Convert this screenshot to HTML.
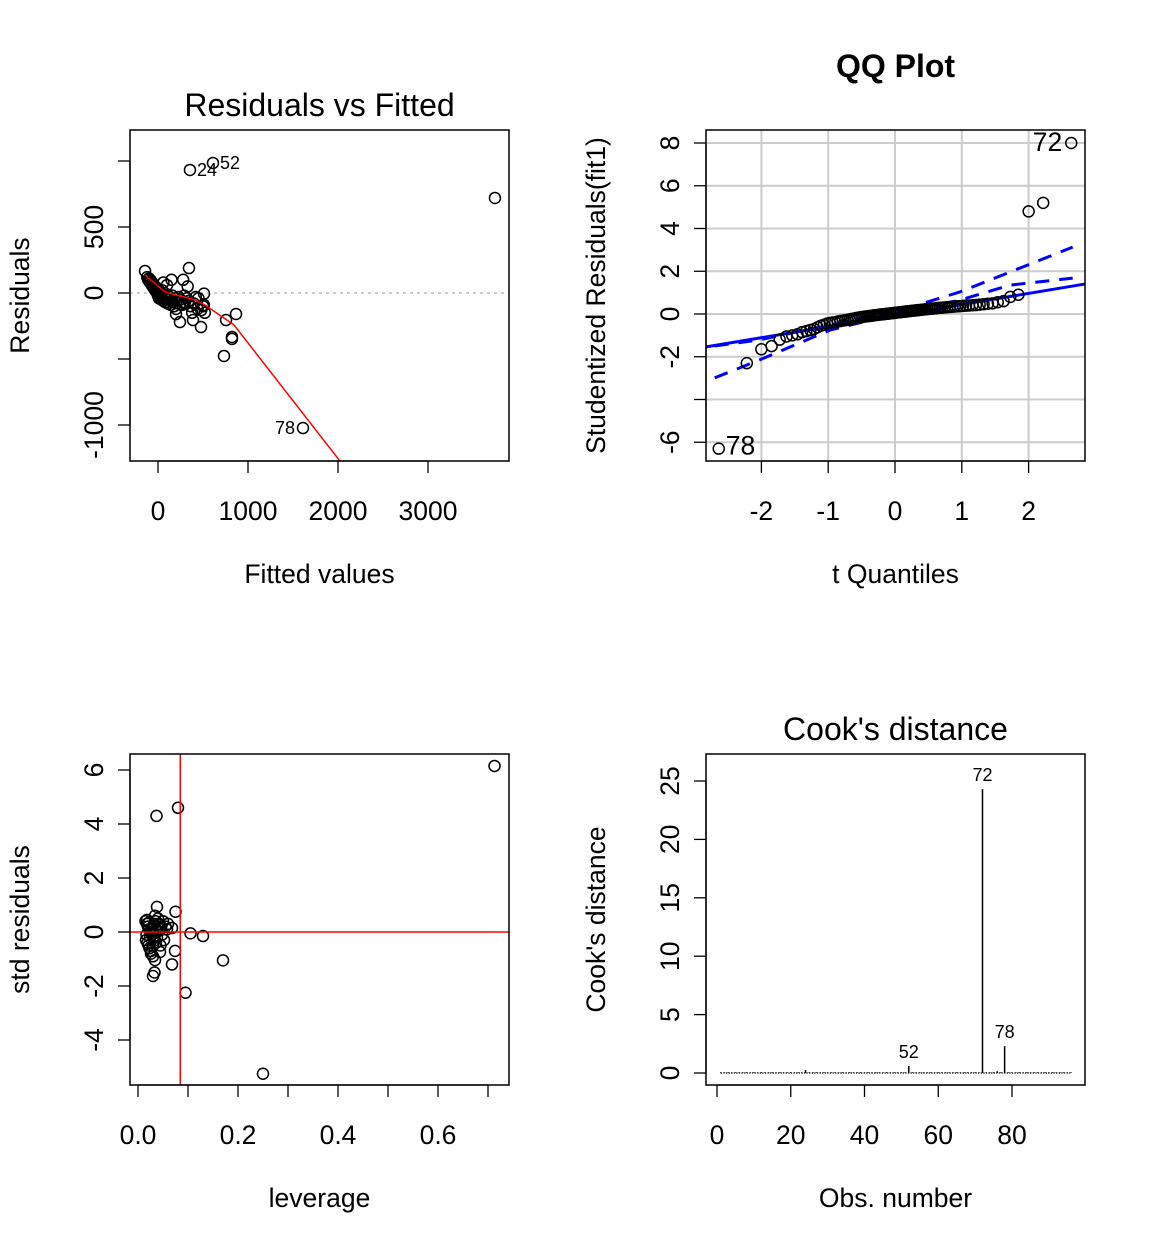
<!DOCTYPE html>
<html><head><meta charset="utf-8"><style>
html,body{margin:0;padding:0;background:#fff;}
svg{display:block;font-family:"Liberation Sans",Arial,sans-serif;}
</style></head><body>
<svg id="c" width="1152" height="1248" viewBox="0 0 1152 1248"></svg>
<script>
// ---------- DATA ----------
// Panel 1: Residuals vs Fitted
const rvfFitted = [-144,355,611,3744,1611,733,822,822,867,756,344,511,478,389,244,289,
 -120,-110,-100,-95,-90,-80,-75,-70,-60,-55,-50,-45,-40,-30,-25,-20,-10,0,5,10,20,30,40,50,60,70,80,90,100,110,120,130,140,150,160,170,180,190,200,210,230,250,270,290,300,320,340,360,380,400,420,450,480,500,520,280,150,60,100,200,330,440,510];
const rvfResid = [167,932,985,720,-1023,-477,-348,-333,-159,-205,189,-5,-258,-205,-220,-80,
 120,100,110,90,80,95,70,60,75,50,40,60,30,20,45,10,0,-20,30,-40,-10,-30,-50,20,-60,-20,-70,-40,-10,-80,-50,-30,-90,-60,-20,-70,-100,-40,-120,-60,-30,-50,-90,-20,-70,-40,-60,-100,-150,-80,-30,-40,-130,-100,-150,100,100,80,60,-160,50,-120,-90];
const rvfLowessX = [-144,78,244,411,522,844,2022];
const rvfLowessY = [136,8,-23,-53,-91,-242,-1273];
const rvfLabels = [["24",355,932],["52",611,985],["78",1611,-1023]];
// Panel 2: QQ plot
const qqResid = [-6.3,-2.3,-1.65,-1.5,-1.2,-1.05,-1.0,-0.95,-0.85,-0.8,-0.75,-0.7,-0.62,-0.55,-0.5,-0.45,-0.42,-0.4,-0.38,-0.35,-0.33,-0.31,-0.29,-0.27,-0.25,-0.23,-0.21,-0.19,-0.17,-0.15,-0.14,-0.12,-0.11,-0.1,-0.09,-0.08,-0.06,-0.05,-0.04,-0.03,-0.02,-0.01,0.0,0.01,0.02,0.03,0.04,0.05,0.06,0.07,0.08,0.09,0.1,0.11,0.12,0.13,0.14,0.15,0.16,0.17,0.18,0.19,0.2,0.21,0.22,0.23,0.24,0.25,0.26,0.27,0.28,0.29,0.3,0.31,0.32,0.33,0.34,0.35,0.36,0.37,0.38,0.39,0.4,0.41,0.42,0.44,0.46,0.48,0.5,0.55,0.6,0.8,0.9,4.8,5.2,8.0];
const qqLineQ = [-2.83,2.84];
const qqLineR = [-1.54,1.40];
const qqBandQ = [-2.7,-2.03,-0.97,0,0.97,1.72,2.66];
const qqUpper = [-1.5,-1.21,-0.51,0.09,1.03,1.96,3.13];
const qqLower = [-2.99,-2.15,-0.75,0,0.65,1.35,1.68];
// Panel 3: std residuals vs leverage
const levX = [0.713,0.037,0.08,0.25,0.17,0.095,0.13,0.105,0.075,0.038,0.068,0.074,0.068,0.044,0.034,0.03,0.033,
 0.015,0.018,0.02,0.022,0.025,0.028,0.03,0.032,0.035,0.04,0.045,0.05,0.055,0.016,0.019,0.021,0.024,0.027,0.03,0.034,0.038,0.042,0.048,0.017,0.02,0.023,0.026,0.03,0.036,0.04,0.046,0.052,0.058,0.018,0.022,0.026,0.03,0.034,0.025,0.045,0.06];
const levStd = [6.15,4.3,4.6,-5.25,-1.05,-2.25,-0.15,-0.05,0.75,0.93,0.15,-0.7,-1.2,-0.74,-1.04,-1.63,-1.5,
 0.4,0.3,0.2,0.1,0.0,-0.1,-0.2,0.3,0.4,0.2,0.1,0.4,0.2,-0.3,-0.4,-0.5,-0.2,0.1,0.0,-0.3,-0.2,0.3,-0.1,-0.1,0.2,-0.6,-0.8,-0.5,-0.4,0.5,0.2,-0.3,0.1,0.45,0.35,-0.7,-0.9,0.6,0.0,-0.5,0.3];
const levVLine = 0.0845;
// Panel 4: Cook's distance
const cookObs = [];
const cookVal = [];
for (let i = 1; i <= 96; i++) { cookObs.push(i); }
const cookBig = {24:0.25,52:0.6,72:24.3,76:0.15,78:2.3};
const cookSmall = 0.06;
for (let i = 1; i <= 96; i++) { cookVal.push(cookBig[i] !== undefined ? cookBig[i] : cookSmall); }

// ---------- DRAWING ----------
const NS = "http://www.w3.org/2000/svg";
const svg = document.getElementById("c");
function mk(tag, attrs, parent, txt) {
  const e = document.createElementNS(NS, tag);
  for (const k in attrs) e.setAttribute(k, attrs[k]);
  if (txt !== undefined) e.textContent = txt;
  (parent || svg).appendChild(e);
  return e;
}
function lin(d0, d1, p0, p1) { return v => p0 + (v - d0) * (p1 - p0) / (d1 - d0); }
const FS = 26.5, TFS = 32;

function panel(name, box, sx, sy, xt, xl, yt, yl, xtitle, ytitle, title, bold, titleY) {
  const g = mk("g", {});
  
  
  const xa = mk("g", {}, g);
  
  
  xt.forEach(v => { const x = sx(v); mk("line", {x1:x, x2:x, y1:box[3], y2:box[3]+12, stroke:"#000", "stroke-width":1.3}, xa); });
  mk("line", {x1:sx(xt[0]), x2:sx(xt[xt.length-1]), y1:box[3], y2:box[3], stroke:"#000","stroke-width":1.3}, xa);
  xl.forEach(v => { const t = mk("text", {x:sx(v[0]), y:box[3]+59, "font-size":FS, "text-anchor":"middle"}, xa, v[1]);
      });
  const ya = mk("g", {}, g);
  
  
  yt.forEach(v => { const y = sy(v); mk("line", {x1:box[0]-12, x2:box[0], y1:y, y2:y, stroke:"#000","stroke-width":1.3}, ya); });
  mk("line", {x1:box[0], x2:box[0], y1:sy(yt[0]), y2:sy(yt[yt.length-1]), stroke:"#000","stroke-width":1.3}, ya);
  yl.forEach(v => { const x = box[0]-27, y = sy(v[0]);
    const t = mk("text", {x:x, y:y, "font-size":FS, "text-anchor":"middle", transform:`rotate(-90 ${x} ${y})`}, ya, v[1]);
      });
  const xtit = mk("text", {x:(box[0]+box[2])/2, y:box[3]+122, "font-size":FS, "text-anchor":"middle"}, g, xtitle);
   
  const yx = box[0]-101, yy = (box[1]+box[3])/2;
  const ytit = mk("text", {x:yx, y:yy, "font-size":FS, "text-anchor":"middle", transform:`rotate(-90 ${yx} ${yy})`}, g, ytitle);
   
  const tt = mk("text", {x:(box[0]+box[2])/2, y:titleY, "font-size":TFS, "text-anchor":"middle", "font-weight":bold?"bold":"normal"}, g, title);
   
  return g;
}
function frame(g, box) {
  const r = mk("rect", {x:box[0], y:box[1], width:box[2]-box[0], height:box[3]-box[1], fill:"none", stroke:"#000", "stroke-width":1.5}, g);
   
}
function clipFor(id, box) {
  const cp = mk("clipPath", {id:id});
  mk("rect", {x:box[0], y:box[1], width:box[2]-box[0], height:box[3]-box[1]}, cp);
}
function pt(g, x, y) {
  const c = mk("circle", {cx:x, cy:y, r:5.5, fill:"none", stroke:"#000", "stroke-width":1.5}, g);
   
}

// Panel 1
{
  const box = [130,130,509,461];
  const sx = lin(0, 1000, 158, 248), sy = lin(0, -1000, 293, 425);
  const g = panel("residuals-vs-fitted", box, sx, sy, [0,1000,2000,3000,4000].filter(v=>sx(v)<=509), [[0,"0"],[1000,"1000"],[2000,"2000"],[3000,"3000"]],
    [1000,500,0,-500,-1000], [[500,"500"],[0,"0"],[-1000,"-1000"]], "Fitted values", "Residuals", "Residuals vs Fitted", false, 116);
  clipFor("cp1", box);
  const inner = mk("g", {"clip-path":"url(#cp1)"}, g);
  const zl = mk("line", {x1:box[0], x2:box[2], y1:sy(0), y2:sy(0), stroke:"#bbb", "stroke-width":1.5, "stroke-dasharray":"3 4"}, inner);
   
  rvfFitted.forEach((f,i) => pt(inner, sx(f), sy(rvfResid[i])));
  const lw = mk("polyline", {points: rvfLowessX.map((x,i)=>sx(x)+","+sy(rvfLowessY[i])).join(" "), fill:"none", stroke:"#f00", "stroke-width":1.5}, inner);
   
  rvfLabels.forEach(l => {
    const isLeft = l[0]==="78";
    const t = mk("text", {x: isLeft ? sx(l[1])-8 : sx(l[1])+7, y: sy(l[2])+6, "font-size":18, "text-anchor": isLeft?"end":"start"}, g, l[0]);
     
  });
  frame(g, box);
}

// Panel 2
{
  const box = [706,130,1085,461];
  const sx = lin(0, 1, 895, 961.8), sy = lin(0, 8, 314, 143);
  const g = panel("qq-plot", box, sx, sy, [-2,-1,0,1,2], [[-2,"-2"],[-1,"-1"],[0,"0"],[1,"1"],[2,"2"]],
    [-6,-4,-2,0,2,4,6,8], [[8,"8"],[6,"6"],[4,"4"],[2,"2"],[0,"0"],[-2,"-2"],[-6,"-6"]], "t Quantiles", "Studentized Residuals(fit1)", "QQ Plot", true, 77);
  clipFor("cp2", box);
  const inner = mk("g", {"clip-path":"url(#cp2)"}, g);
  const grid = mk("g", {}, inner);
   
  [-2,-1,0,1,2].forEach(v => mk("line", {x1:sx(v), x2:sx(v), y1:box[1], y2:box[3], stroke:"#ccc", "stroke-width":2}, grid));
  [-6,-4,-2,0,2,4,6,8].forEach(v => mk("line", {x1:box[0], x2:box[2], y1:sy(v), y2:sy(v), stroke:"#ccc", "stroke-width":2}, grid));
  function qnorm(p) { // Acklam approximation
    const a=[-39.6968302866538,220.946098424521,-275.928510446969,138.357751867269,-30.6647980661472,2.50662827745924];
    const b=[-54.4760987982241,161.585836858041,-155.698979859887,66.8013118877197,-13.2806815528857];
    const c=[-0.00778489400243029,-0.322396458041136,-2.40075827716184,-2.54973253934373,4.37466414146497,2.93816398269878];
    const d=[0.00778469570904146,0.32246712907004,2.445134137143,3.75440866190742];
    let q,r;
    if (p<0.02425){q=Math.sqrt(-2*Math.log(p));return (((((c[0]*q+c[1])*q+c[2])*q+c[3])*q+c[4])*q+c[5])/((((d[0]*q+d[1])*q+d[2])*q+d[3])*q+1);}
    if (p>1-0.02425){q=Math.sqrt(-2*Math.log(1-p));return -(((((c[0]*q+c[1])*q+c[2])*q+c[3])*q+c[4])*q+c[5])/((((d[0]*q+d[1])*q+d[2])*q+d[3])*q+1);}
    q=p-0.5;r=q*q;return (((((a[0]*r+a[1])*r+a[2])*r+a[3])*r+a[4])*r+a[5])*q/(((((b[0]*r+b[1])*r+b[2])*r+b[3])*r+b[4])*r+1);
  }
  const n = qqResid.length;
  const sorted = qqResid.slice().sort((a,b)=>a-b);
  const qs = sorted.map((v,i)=>qnorm((i+0.5)/n)*1.03);
  const ln = mk("line", {x1:sx(qqLineQ[0]), y1:sy(qqLineR[0]), x2:sx(qqLineQ[1]), y2:sy(qqLineR[1]), stroke:"#00f", "stroke-width":3}, inner);
   
  const up = mk("polyline", {points: qqBandQ.map((q,i)=>sx(q)+","+sy(qqUpper[i])).join(" "), fill:"none", stroke:"#00f", "stroke-width":3, "stroke-dasharray":"14 10"}, inner);
   
  const lo = mk("polyline", {points: qqBandQ.map((q,i)=>sx(q)+","+sy(qqLower[i])).join(" "), fill:"none", stroke:"#00f", "stroke-width":3, "stroke-dasharray":"14 10"}, inner);
   
  sorted.forEach((v,i) => pt(inner, sx(qs[i]), sy(v)));
  const t1 = mk("text", {x:sx(qs[n-1])-9, y:sy(sorted[n-1])+8, "font-size":FS, "text-anchor":"end"}, g, "72");
   
  const t2 = mk("text", {x:sx(qs[0])+7, y:sy(sorted[0])+6, "font-size":FS, "text-anchor":"start"}, g, "78");
   
  frame(g, box);
}

// Panel 3
{
  const box = [130,754,509,1085];
  const sx = lin(0, 0.2, 138, 238), sy = lin(0, 6, 932, 770);
  const g = panel("std-residuals-vs-leverage", box, sx, sy, [0,0.1,0.2,0.3,0.4,0.5,0.6,0.7], [[0,"0.0"],[0.2,"0.2"],[0.4,"0.4"],[0.6,"0.6"]],
    [-4,-2,0,2,4,6], [[6,"6"],[4,"4"],[2,"2"],[0,"0"],[-2,"-2"],[-4,"-4"]], "leverage", "std residuals", "", false, 740);
  clipFor("cp3", box);
  const inner = mk("g", {"clip-path":"url(#cp3)"}, g);
  levX.forEach((x,i) => pt(inner, sx(x), sy(levStd[i])));
  const h = mk("line", {x1:box[0], x2:box[2], y1:sy(0), y2:sy(0), stroke:"#f00", "stroke-width":1.5}, inner);
   
  const v = mk("line", {x1:sx(levVLine), x2:sx(levVLine), y1:box[1], y2:box[3], stroke:"#f00", "stroke-width":1.5}, inner);
   
  frame(g, box);
}

// Panel 4
{
  const box = [706,754,1085,1085];
  const sx = lin(0, 80, 717, 1012), sy = lin(0, 25, 1073, 781);
  const g = panel("cooks-distance", box, sx, sy, [0,20,40,60,80], [[0,"0"],[20,"20"],[40,"40"],[60,"60"],[80,"80"]],
    [0,5,10,15,20,25], [[0,"0"],[5,"5"],[10,"10"],[15,"15"],[20,"20"],[25,"25"]], "Obs. number", "Cook's distance", "Cook's distance", false, 740);
  const base = mk("line", {x1:sx(1), x2:sx(96), y1:sy(0), y2:sy(0), stroke:"#000", "stroke-width":1.3, "stroke-dasharray":"1.3 1.3"}, g);
   
  cookObs.forEach((o,i) => {
    const l = mk("line", {x1:sx(o), x2:sx(o), y1:sy(0), y2:sy(cookVal[i]), stroke:"#000", "stroke-width":1.5}, g);
     
  });
  [[72,"72"],[78,"78"],[52,"52"]].forEach(p => {
    const t = mk("text", {x:sx(p[0]), y:sy(cookVal[p[0]-1])-8, "font-size":18, "text-anchor":"middle"}, g, p[1]);
     
  });
  frame(g, box);
}
</script>
</body></html>
